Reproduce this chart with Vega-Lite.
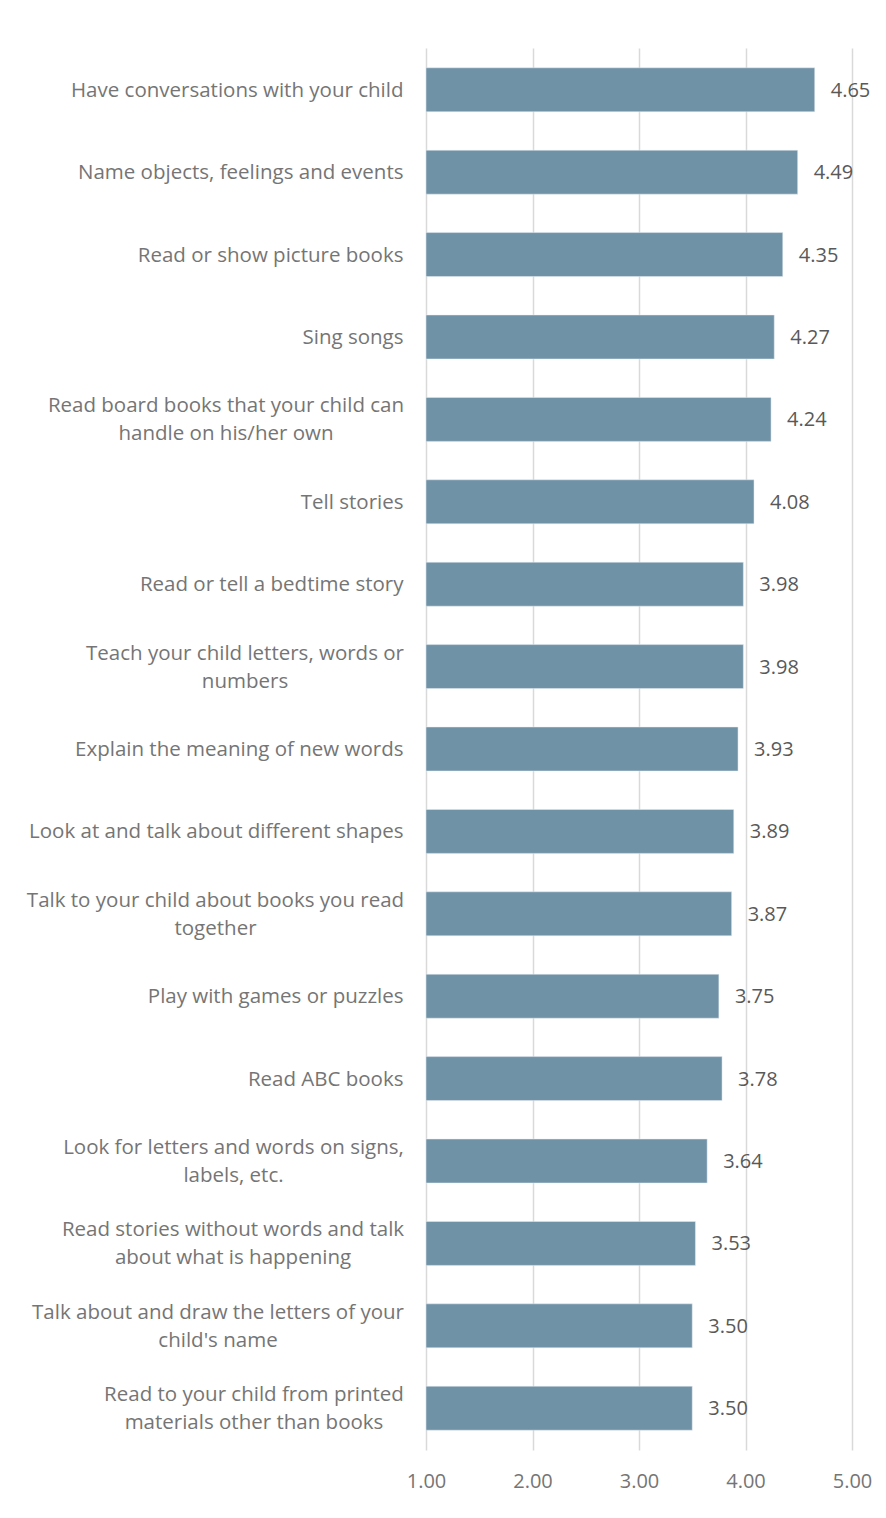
{
  "$schema": "https://vega.github.io/schema/vega-lite/v6.json",
  "autosize": "none",
  "width": 426,
  "height": 1402,
  "padding": {"left": 426, "top": 48, "right": 34, "bottom": 68},
  "background": "#ffffff",
  "config": {
    "view": {"stroke": null},
    "font": "Open Sans"
  },
  "data": {
    "values": [
      {"activity": "Have conversations with your child", "score": 4.65},
      {"activity": "Name objects, feelings and events", "score": 4.49},
      {"activity": "Read or show picture books", "score": 4.35},
      {"activity": "Sing songs", "score": 4.27},
      {"activity": "Read board books that your child can|handle on his/her own", "score": 4.24},
      {"activity": "Tell stories", "score": 4.08},
      {"activity": "Read or tell a bedtime story", "score": 3.98},
      {"activity": "Teach your child letters, words or|numbers", "score": 3.98},
      {"activity": "Explain the meaning of new words", "score": 3.93},
      {"activity": "Look at and talk about different shapes", "score": 3.89},
      {"activity": "Talk to your child about books you read|together", "score": 3.87},
      {"activity": "Play with games or puzzles", "score": 3.75},
      {"activity": "Read ABC books", "score": 3.78},
      {"activity": "Look for letters and words on signs,|labels, etc.", "score": 3.64},
      {"activity": "Read stories without words and talk|about what is happening", "score": 3.53},
      {"activity": "Talk about and draw the letters of your|child's name", "score": 3.5},
      {"activity": "Read to your child from printed|materials other than books", "score": 3.5}
    ]
  },
  "encoding": {
    "y": {
      "field": "activity",
      "type": "nominal",
      "sort": null,
      "scale": {"paddingInner": 0.466, "paddingOuter": 0.24},
      "axis": {
        "title": null,
        "domain": false,
        "ticks": false,
        "grid": false,
        "labelExpr": "split(datum.label, '|')",
        "labelFont": "Open Sans",
        "labelFontSize": 20.5,
        "labelLineHeight": 28,
        "labelColor": "#757575",
        "labelLimit": 420,
        "labelAlign": {"condition": {"test": "indexof(datum.value, '|') >= 0", "value": "center"}, "value": "right"},
        "labelPadding": {
          "condition": [
            {"test": "indexof(datum.value, 'Read board') == 0", "value": 200.5},
            {"test": "indexof(datum.value, 'Teach your') == 0", "value": 181.5},
            {"test": "indexof(datum.value, 'Talk to your') == 0", "value": 211},
            {"test": "indexof(datum.value, 'Look for letters') == 0", "value": 193},
            {"test": "indexof(datum.value, 'Read stories') == 0", "value": 193.5},
            {"test": "indexof(datum.value, 'Talk about and draw') == 0", "value": 208.5},
            {"test": "indexof(datum.value, 'Read to your') == 0", "value": 172.5}
          ],
          "value": 23
        },
        "labelOffset": {"condition": {"test": "indexof(datum.value, '|') >= 0", "value": -13}, "value": 1}
      }
    },
    "x": {
      "field": "score",
      "type": "quantitative",
      "scale": {"domain": [1, 5], "nice": false, "zero": false},
      "axis": {
        "title": null,
        "values": [1, 2, 3, 4, 5],
        "format": ".2f",
        "domain": false,
        "ticks": false,
        "grid": true,
        "gridColor": "#d9d9d9",
        "gridWidth": 1.5,
        "labelFlush": false,
        "labelFont": "Open Sans",
        "labelFontSize": 20,
        "labelColor": "#757575",
        "labelPadding": 21
      }
    }
  },
  "layer": [
    {
      "mark": {"type": "bar", "color": "#7092a6", "stroke": "#e8eef2", "strokeWidth": 0.5},
      "encoding": {"x2": {"datum": 1}}
    },
    {
      "mark": {"type": "text", "align": "left", "baseline": "middle", "dx": 16, "dy": 1, "font": "Open Sans", "fontSize": 20, "color": "#595959"},
      "encoding": {"text": {"field": "score", "type": "quantitative", "format": ".2f"}}
    }
  ]
}
